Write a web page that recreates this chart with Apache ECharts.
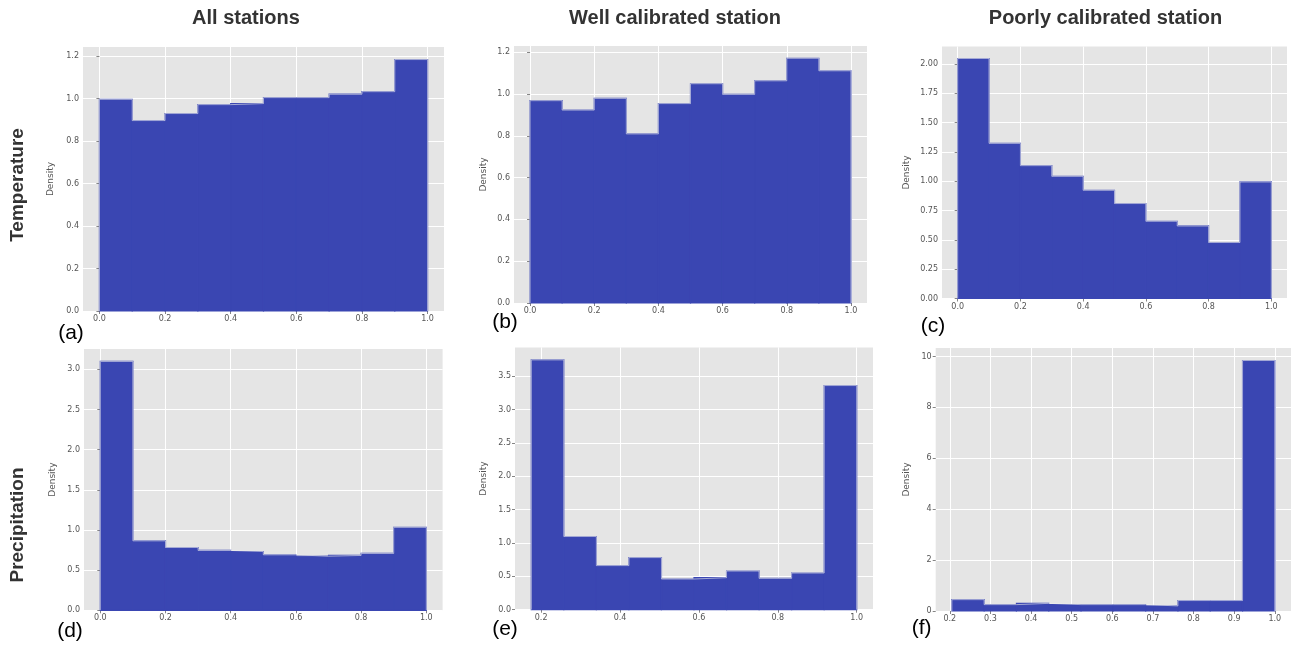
<!DOCTYPE html>
<html>
<head>
<meta charset="utf-8">
<script src="https://cdn.jsdelivr.net/npm/echarts@6/dist/echarts.min.js"></script>
<style>
  html, body { margin: 0; padding: 0; background: #ffffff; }
  #chart { width: 1291px; height: 648px; }
</style>
</head>
<body>
<div id="chart"></div>
<script>
// ---------- data ----------
const colTitles = ["All stations", "Well calibrated station", "Poorly calibrated station"];
const rowTitles = ["Temperature", "Precipitation"];
const panelLabels = ["(a)", "(b)", "(c)", "(d)", "(e)", "(f)"];

const edges01 = [0.0, 0.1, 0.2, 0.3, 0.4, 0.5, 0.6, 0.7, 0.8, 0.9, 1.0];
const edgesE = [0.175, 0.2575, 0.34, 0.4225, 0.505, 0.5875, 0.67, 0.7525, 0.835, 0.9175, 1.0];
const edgesF = [0.205, 0.2845, 0.364, 0.4435, 0.523, 0.6025, 0.682, 0.7615, 0.841, 0.9205, 1.0];

const densityA = [0.996, 0.896, 0.929, 0.971, 0.976, 1.004, 1.004, 1.020, 1.032, 1.183];
const densityB = [0.968, 0.923, 0.979, 0.809, 0.954, 1.049, 0.998, 1.063, 1.171, 1.111];
const densityC = [2.045, 1.322, 1.132, 1.041, 0.922, 0.809, 0.658, 0.618, 0.477, 0.993];
const densityD = [3.099, 0.865, 0.782, 0.745, 0.732, 0.691, 0.674, 0.683, 0.708, 1.034];
const densityE = [3.745, 1.097, 0.661, 0.781, 0.460, 0.480, 0.580, 0.470, 0.550, 3.360];
const densityF = [0.446, 0.250, 0.300, 0.250, 0.250, 0.250, 0.200, 0.410, 0.410, 9.840];

const xTicks01 = [0.0, 0.2, 0.4, 0.6, 0.8, 1.0];
const xTicksE = [0.2, 0.4, 0.6, 0.8, 1.0];
const xTicksF = [0.2, 0.3, 0.4, 0.5, 0.6, 0.7, 0.8, 0.9, 1.0];
const yTicksAB = [0.0, 0.2, 0.4, 0.6, 0.8, 1.0, 1.2];
const yTicksC = [0.0, 0.25, 0.5, 0.75, 1.0, 1.25, 1.5, 1.75, 2.0];
const yTicksD = [0.0, 0.5, 1.0, 1.5, 2.0, 2.5, 3.0];
const yTicksE = [0.0, 0.5, 1.0, 1.5, 2.0, 2.5, 3.0, 3.5];
const yTicksF = [0, 2, 4, 6, 8, 10];

// ---------- layout ----------
const panels = [
  { edges: edges01, dens: densityA, xt: xTicks01, yt: yTicksAB, xd: 1, yd: 1,
    grid: { left: 83, top: 47, width: 361, height: 264 }, nameGap: 28, label: [71, 333] },
  { edges: edges01, dens: densityB, xt: xTicks01, yt: yTicksAB, xd: 1, yd: 1,
    grid: { left: 514, top: 46, width: 353, height: 257 }, nameGap: 26, label: [505, 322] },
  { edges: edges01, dens: densityC, xt: xTicks01, yt: yTicksC, xd: 1, yd: 2,
    grid: { left: 942, top: 46.5, width: 345, height: 252 }, nameGap: 31, label: [933, 326] },
  { edges: edges01, dens: densityD, xt: xTicks01, yt: yTicksD, xd: 1, yd: 1,
    grid: { left: 84, top: 349, width: 358.6, height: 261.3 }, nameGap: 27, label: [70, 631] },
  { edges: edgesE, dens: densityE, xt: xTicksE, yt: yTicksE, xd: 1, yd: 1,
    grid: { left: 515, top: 347.4, width: 358, height: 262.3 }, nameGap: 27, label: [505, 629] },
  { edges: edgesF, dens: densityF, xt: xTicksF, yt: yTicksF, xd: 1, yd: 0,
    grid: { left: 935.7, top: 348, width: 358, height: 263 }, nameGap: 25, label: [921.7, 628] }
];

const tickFont = 'DejaVu Sans';
const barColor = '#3a46b2';
const grids = [], xAxes = [], yAxes = [], series = [], graphics = [];

panels.forEach((p, i) => {
  const lo = p.edges[0], hi = p.edges[p.edges.length - 1];
  const pad = (hi - lo) * 0.05;
  const ymax = Math.max.apply(null, p.dens) * 1.05;
  grids.push(Object.assign({ show: true, backgroundColor: '#e5e5e5', borderWidth: 0, containLabel: false }, p.grid));
  xAxes.push({
    type: 'value', gridIndex: i, min: lo - pad, max: hi + pad,
    axisLine: { show: false },
    axisTick: { show: true, customValues: p.xt, length: 3, lineStyle: { color: '#666', width: 0.8 } },
    axisLabel: { customValues: p.xt, formatter: v => v.toFixed(p.xd), fontSize: 8, color: '#555', fontFamily: tickFont, margin: 4 },
    splitLine: { show: true, lineStyle: { color: '#ffffff', width: 1 } }
  });
  yAxes.push({
    type: 'value', gridIndex: i, min: 0, max: ymax,
    name: 'Density', nameLocation: 'middle', nameGap: p.nameGap, nameRotate: 90,
    nameTextStyle: { fontSize: 9, color: '#555', fontFamily: tickFont },
    axisLine: { show: false },
    axisTick: { show: true, customValues: p.yt, length: 3, lineStyle: { color: '#666', width: 0.8 } },
    axisLabel: { customValues: p.yt, formatter: v => v.toFixed(p.yd), fontSize: 8, color: '#555', fontFamily: tickFont, margin: 4 },
    splitLine: { show: true, lineStyle: { color: '#ffffff', width: 1 } }
  });
  const data = p.dens.map((h, k) => [p.edges[k], p.edges[k + 1], h]);
  series.push({
    type: 'custom', xAxisIndex: i, yAxisIndex: i, data: data,
    encode: { x: [0, 1], y: 2 },
    renderItem: function (params, api) {
      const a = api.coord([api.value(0), api.value(2)]);
      const b = api.coord([api.value(1), 0]);
      return {
        type: 'rect',
        shape: { x: a[0], y: a[1], width: b[0] - a[0], height: b[1] - a[1] },
        style: { fill: barColor, stroke: barColor, lineWidth: 1.2 }
      };
    },
    silent: true, animation: false, z: 2
  });
  // stepfilled outline (light edge along the histogram contour)
  const outline = [[lo, 0]];
  p.dens.forEach((h, k) => outline.push([p.edges[k], h]));
  outline.push([hi, p.dens[p.dens.length - 1]]);
  outline.push([hi, 0]);
  series.push({
    type: 'line', xAxisIndex: i, yAxisIndex: i, data: outline, step: 'end',
    symbol: 'none', lineStyle: { color: '#eeeeee', width: 0.6 },
    silent: true, animation: false, z: 3
  });
  graphics.push({
    type: 'text', x: p.label[0], y: p.label[1],
    style: { text: panelLabels[i], font: '21px "Liberation Sans", Arial, sans-serif', fill: '#000',
             textAlign: 'center', textVerticalAlign: 'middle' }
  });
});

const colX = [246, 675, 1105.5];
colX.forEach((x, i) => {
  graphics.push({
    type: 'text', x: x, y: 18.5,
    style: { text: colTitles[i], font: 'bold 20px "Liberation Sans", Arial, sans-serif', fill: '#333',
             textAlign: 'center', textVerticalAlign: 'middle' }
  });
});
const rowY = [185, 525];
rowY.forEach((y, i) => {
  graphics.push({
    type: 'text', x: 18, y: y, rotation: Math.PI / 2,
    style: { text: rowTitles[i], font: 'bold 19px "Liberation Sans", Arial, sans-serif', fill: '#333',
             textAlign: 'center', textVerticalAlign: 'middle' }
  });
});

const chart = echarts.init(document.getElementById('chart'), null, { renderer: 'canvas' });
chart.setOption({
  animation: false,
  backgroundColor: '#ffffff',
  grid: grids, xAxis: xAxes, yAxis: yAxes, series: series, graphic: graphics
});
</script>
</body>
</html>
